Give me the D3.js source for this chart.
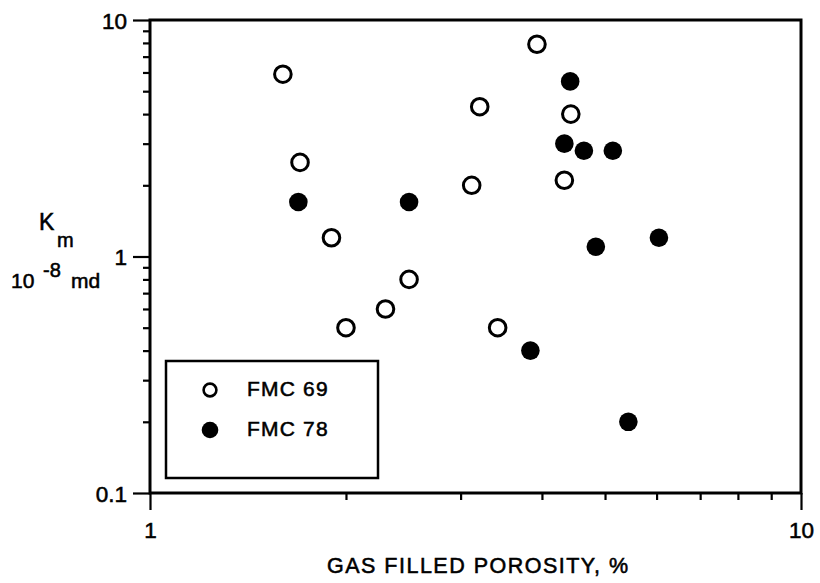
<!DOCTYPE html>
<html>
<head>
<meta charset="utf-8">
<script src="https://cdn.jsdelivr.net/npm/d3@7"></script>
<style>
  body { margin: 0; background: #fff; }
  svg { display: block; }
  text { font-family: "Liberation Sans", Arial, Helvetica, sans-serif; fill: #000; stroke: #000; stroke-width: 0.55px; }
</style>
</head>
<body>
<svg id="chart" width="820" height="583"></svg>
<script>
// Gas filled porosity (%) and K_m (10^-8 md) for the two samples
const fmc69Porosity = [1.60, 1.70, 1.90, 2.00, 2.30, 2.50, 3.12, 3.21, 3.42, 3.93, 4.33, 4.43];
const fmc69K        = [5.9, 2.5, 1.2, 0.50, 0.60, 0.80, 2.0, 4.3, 0.50, 7.9, 2.1, 4.0];
const fmc78Porosity = [1.69, 2.50, 3.84, 4.42, 4.33, 4.64, 5.14, 4.84, 6.05, 5.43];
const fmc78K        = [1.7, 1.7, 0.40, 5.5, 3.0, 2.8, 2.8, 1.1, 1.2, 0.20];

const xTickLabels = ["1", "10"];
const yTickLabels = ["0.1", "1", "10"];
const xMajor = [1, 10];
const yMajor = [0.1, 1, 10];
const legendLabels = ["FMC 69", "FMC 78"];

const plotLeft = 150, plotRight = 801, plotTop = 20, plotBottom = 493;

const svg = d3.select("#chart");

const x = d3.scaleLog().domain([1, 10]).range([plotLeft, plotRight]);
const y = d3.scaleLog().domain([0.1, 10]).range([plotBottom, plotTop]);

// minor ticks at 2..9 in each decade
const xTicks = d3.range(1, 11);
const yTicks = [];
for (const dec of [0.1, 1]) for (let i = 1; i <= 9; i++) yTicks.push(+(dec * i).toFixed(2));
yTicks.push(10);

const isMajor = (arr, d) => arr.some(m => Math.abs(m - d) < 1e-9);

// Y axis
const yAxis = svg.append("g")
  .attr("transform", `translate(${plotLeft},0)`)
  .call(d3.axisLeft(y).tickValues(yTicks).tickSize(7)
    .tickFormat(d => { const i = yMajor.findIndex(m => Math.abs(m - d) < 1e-9); return i >= 0 ? yTickLabels[i] : ""; }));
yAxis.select(".domain").remove();
yAxis.selectAll(".tick line").attr("stroke", "#000").attr("stroke-width", 2.2)
  .attr("x2", d => isMajor(yMajor, d) ? -17 : -7);
yAxis.selectAll(".tick text")
  .attr("x", -23).attr("font-size", 22.5).attr("dy", "0.36em")
  .style("font-family", "'Liberation Sans', Arial, sans-serif");

// X axis
const xAxis = svg.append("g")
  .attr("transform", `translate(0,${plotBottom})`)
  .call(d3.axisBottom(x).tickValues(xTicks).tickSize(7)
    .tickFormat(d => { const i = xMajor.findIndex(m => Math.abs(m - d) < 1e-9); return i >= 0 ? xTickLabels[i] : ""; }));
xAxis.select(".domain").remove();
xAxis.selectAll(".tick line").attr("stroke", "#000").attr("stroke-width", 2.2)
  .attr("y2", d => isMajor(xMajor, d) ? 17 : 7);
xAxis.selectAll(".tick text")
  .attr("y", 45).attr("dy", 0).attr("font-size", 22.5)
  .style("font-family", "'Liberation Sans', Arial, sans-serif");

// Plot frame
svg.append("rect")
  .attr("x", plotLeft).attr("y", plotTop)
  .attr("width", plotRight - plotLeft).attr("height", plotBottom - plotTop)
  .attr("fill", "none").attr("stroke", "#000").attr("stroke-width", 3);

// Data points
const fmc69 = fmc69Porosity.map((p, i) => ({ p, k: fmc69K[i] }));
const fmc78 = fmc78Porosity.map((p, i) => ({ p, k: fmc78K[i] }));

svg.append("g").selectAll("circle").data(fmc69).join("circle")
  .attr("cx", d => x(d.p)).attr("cy", d => y(d.k)).attr("r", 8.3)
  .attr("fill", "#fff").attr("stroke", "#000").attr("stroke-width", 3);

svg.append("g").selectAll("circle").data(fmc78).join("circle")
  .attr("cx", d => x(d.p)).attr("cy", d => y(d.k)).attr("r", 9.3)
  .attr("fill", "#000");

// Legend
const legend = svg.append("g");
legend.append("rect")
  .attr("x", 166).attr("y", 361).attr("width", 212).attr("height", 117)
  .attr("fill", "#fff").attr("stroke", "#000").attr("stroke-width", 2.5);
legend.append("circle").attr("cx", 210).attr("cy", 390).attr("r", 6.4)
  .attr("fill", "#fff").attr("stroke", "#000").attr("stroke-width", 2.6);
legend.append("circle").attr("cx", 210).attr("cy", 430).attr("r", 8.3)
  .attr("fill", "#000");
legend.selectAll("text.lab").data(legendLabels).join("text")
  .attr("class", "lab")
  .attr("x", 247).attr("y", (d, i) => 396 + i * 40)
  .attr("font-size", 21).attr("letter-spacing", 1.2)
  .text(d => d);

// Axis titles
svg.append("text")
  .attr("x", 327).attr("y", 573)
  .attr("font-size", 21.5)
  .attr("textLength", 301).attr("lengthAdjust", "spacing")
  .text("GAS FILLED POROSITY, %");

const yt = svg.append("g");
yt.append("text").attr("x", 39).attr("y", 230).attr("font-size", 23).text("K");
yt.append("text").attr("x", 57).attr("y", 247).attr("font-size", 20).text("m");
yt.append("text").attr("x", 11).attr("y", 288).attr("font-size", 21).text("10");
yt.append("text").attr("x", 43).attr("y", 277).attr("font-size", 20).text("-8");
yt.append("text").attr("x", 71).attr("y", 288).attr("font-size", 21).text("md");
</script>
</body>
</html>
